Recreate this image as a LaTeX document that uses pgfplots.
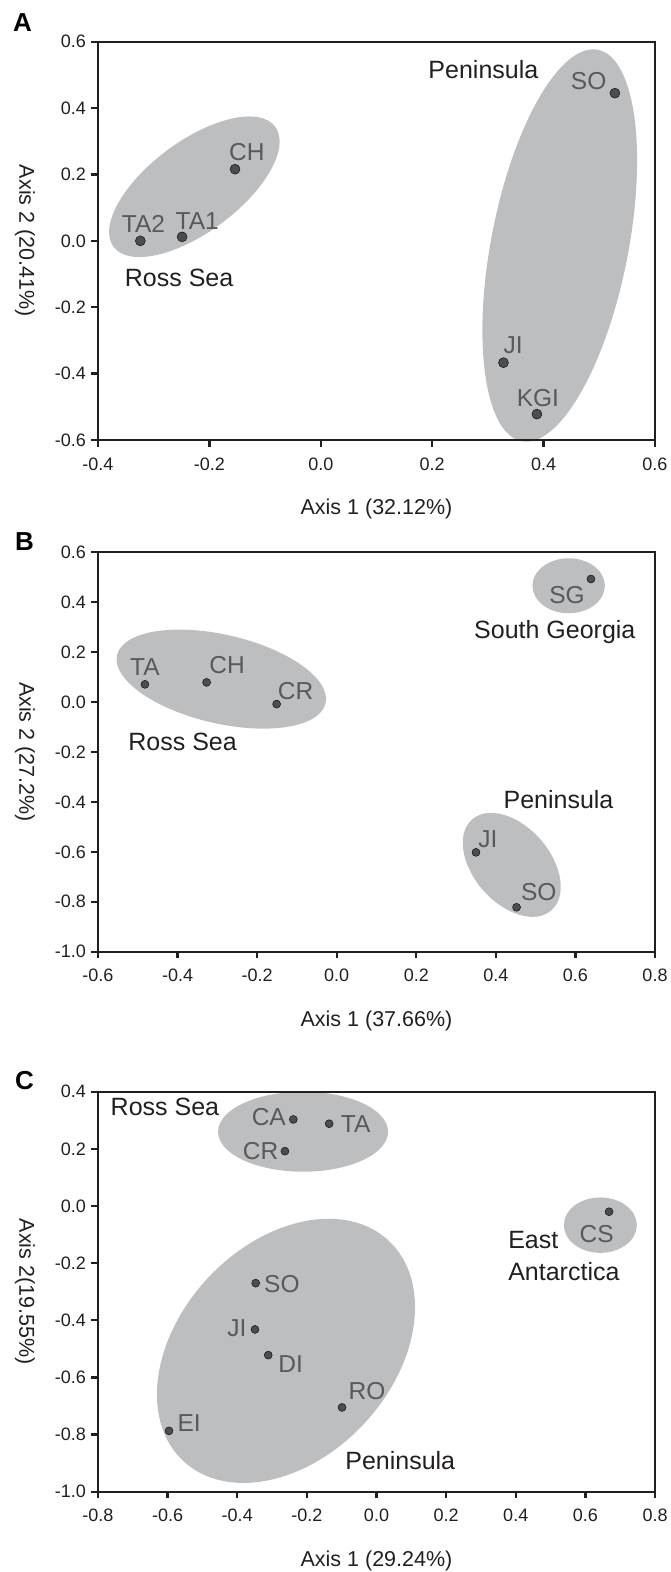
\documentclass[border=0pt]{standalone}
\usepackage{fontspec}
\setmainfont{Liberation Sans}
\usepackage{pgfplots}
\pgfplotsset{compat=1.18}

\definecolor{ellfill}{RGB}{188,190,192}
\definecolor{dotc}{RGB}{77,77,79}
\definecolor{labc}{RGB}{88,89,91}
\definecolor{ink}{RGB}{35,31,32}

\pgfplotsset{
  pcoa/.style={
    scale only axis, anchor=south west, clip=false, axis on top,
    width=557pt,
    axis line style={ink, line width=2.3pt},
    major tick style={ink, line width=2.3pt},
    major tick length=6.5pt,
    tick align=outside,
    xtick pos=left, ytick pos=left,
    tick label style={font=\fontsize{18}{18}\selectfont, text=ink},
    xticklabel style={yshift=-7.5pt},
    yticklabel style={xshift=-2pt},
    /pgf/number format/fixed,
    /pgf/number format/fixed zerofill,
    /pgf/number format/precision=1,
    /pgf/number format/assume math mode=true,
    label style={font=\fontsize{21.5}{21.5}\selectfont, text=ink},
    x label style={at={(axis description cs:0.5,-0.1725)}, anchor=center},
    y label style={at={(axis description cs:-0.131,0.5)}, anchor=center, rotate=180},
  },
}
\tikzset{
  ptlab/.style={inner sep=0pt, text=labc, font=\fontsize{24.5}{24.5}\selectfont},
  grp/.style={inner sep=0pt, anchor=base west, text=ink, font=\fontsize{25}{25}\selectfont},
}

\begin{document}
\begin{tikzpicture}
\path[use as bounding box] (0,0) rectangle (671pt,-1572pt);

% ---------- A ----------
\begin{axis}[pcoa, at={(98pt,-440pt)}, height=398.3pt,
  xmin=-0.4, xmax=0.6, ymin=-0.6, ymax=0.6,
  xtick={-0.4,-0.2,0,0.2,0.4,0.6},
  ytick={-0.6,-0.4,-0.2,0,0.2,0.4,0.6},
  xlabel={Axis 1 (32.12\%)}, ylabel={Axis 2 (20.41\%)}]
\fill[ellfill] (axis cs:-0.227,0.163) circle[x radius=100.7pt, y radius=45.5pt, rotate=36.6];
\fill[ellfill] (axis cs:0.429,-0.014) circle[x radius=199.4pt, y radius=68.6pt, rotate=79];
\addplot[only marks, mark=*, mark size=5pt, mark options={fill=dotc, draw=none}]
  table {
x y
-0.324 0.000
-0.249 0.012
-0.154 0.216
0.528 0.445
0.328 -0.367
0.388 -0.522
};
\node[ptlab, anchor=base west, xshift=-18.6pt, yshift=8.3pt] at (axis cs:-0.324,0.000) {TA2};
\node[ptlab, anchor=base west, xshift=-6.7pt, yshift=7pt] at (axis cs:-0.249,0.012) {TA1};
\node[ptlab, anchor=base west, xshift=-6pt, yshift=9pt] at (axis cs:-0.154,0.216) {CH};
\node[ptlab, anchor=base east, xshift=-8.3pt, yshift=4pt] at (axis cs:0.528,0.445) {SO};
\node[ptlab, anchor=base west, xshift=0pt, yshift=8.7pt] at (axis cs:0.328,-0.367) {JI};
\node[ptlab, anchor=base, xshift=1pt, yshift=7.3pt] at (axis cs:0.388,-0.522) {KGI};
\node[grp] at (axis cs:0.193,0.488) {Peninsula};
\node[grp] at (axis cs:-0.352,-0.138) {Ross Sea};
\end{axis}

% ---------- B ----------
\begin{axis}[pcoa, at={(98pt,-951.7pt)}, height=399.4pt,
  xmin=-0.6, xmax=0.8, ymin=-1.0, ymax=0.6,
  xtick={-0.6,-0.4,-0.2,0,0.2,0.4,0.6,0.8},
  ytick={-1,-0.8,-0.6,-0.4,-0.2,0,0.2,0.4,0.6},
  xlabel={Axis 1 (37.66\%)}, ylabel={Axis 2 (27.2\%)}]
\fill[ellfill] (axis cs:-0.290,0.092) circle[x radius=107pt, y radius=44.4pt, rotate=-13];
\fill[ellfill] (axis cs:0.583,0.466) circle[x radius=36.2pt, y radius=27.5pt];
\fill[ellfill] (axis cs:0.440,-0.652) circle[x radius=60.3pt, y radius=38.3pt, rotate=-49];
\addplot[only marks, mark=*, mark size=4pt, mark options={fill=dotc, draw=none}]
  table {
x y
-0.482 0.071
-0.327 0.079
-0.151 -0.008
0.639 0.493
0.350 -0.602
0.452 -0.822
};
\node[ptlab, anchor=base, yshift=8.6pt] at (axis cs:-0.482,0.071) {TA};
\node[ptlab, anchor=base west, xshift=2.6pt, yshift=9pt] at (axis cs:-0.327,0.079) {CH};
\node[ptlab, anchor=base west, xshift=1pt, yshift=5pt] at (axis cs:-0.151,-0.008) {CR};
\node[ptlab, anchor=base east, xshift=-6pt, yshift=-24.3pt] at (axis cs:0.639,0.493) {SG};
\node[ptlab, anchor=base west, xshift=2.3pt, yshift=5pt] at (axis cs:0.350,-0.602) {JI};
\node[ptlab, anchor=base west, xshift=4.3pt, yshift=6.3pt] at (axis cs:0.452,-0.822) {SO};
\node[grp] at (axis cs:-0.524,-0.192) {Ross Sea};
\node[grp] at (axis cs:0.345,0.253) {South Georgia};
\node[grp] at (axis cs:0.419,-0.426) {Peninsula};
\end{axis}

% ---------- C ----------
\begin{axis}[pcoa, at={(98pt,-1491.7pt)}, height=400pt,
  xmin=-0.8, xmax=0.8, ymin=-1.0, ymax=0.4,
  xtick={-0.8,-0.6,-0.4,-0.2,0,0.2,0.4,0.6,0.8},
  ytick={-1,-0.8,-0.6,-0.4,-0.2,0,0.2,0.4},
  xlabel={Axis 1 (29.24\%)}, ylabel={Axis 2(19.55\%)}]
\fill[ellfill] (axis cs:-0.211,0.260) circle[x radius=85pt, y radius=40pt];
\fill[ellfill] (axis cs:0.643,-0.067) circle[x radius=36.5pt, y radius=27.7pt];
\fill[ellfill] (axis cs:-0.260,-0.507) circle[x radius=150.6pt, y radius=106.8pt, rotate=47];
\addplot[only marks, mark=*, mark size=4pt, mark options={fill=dotc, draw=none}]
  table {
x y
-0.239 0.303
-0.136 0.288
-0.263 0.192
0.668 -0.020
-0.347 -0.270
-0.349 -0.432
-0.311 -0.522
-0.099 -0.705
-0.596 -0.787
};
\node[ptlab, anchor=base east, xshift=-7.3pt, yshift=-6pt] at (axis cs:-0.239,0.303) {CA};
\node[ptlab, anchor=base west, xshift=11.6pt, yshift=-8.7pt] at (axis cs:-0.136,0.288) {TA};
\node[ptlab, anchor=base east, xshift=-6.5pt, yshift=-8.3pt] at (axis cs:-0.263,0.192) {CR};
\node[ptlab, anchor=base, xshift=-12.4pt, yshift=-31pt] at (axis cs:0.668,-0.020) {CS};
\node[ptlab, anchor=base west, xshift=8.3pt, yshift=-9pt] at (axis cs:-0.347,-0.270) {SO};
\node[ptlab, anchor=base east, xshift=-8.3pt, yshift=-6.7pt] at (axis cs:-0.349,-0.432) {JI};
\node[ptlab, anchor=base west, xshift=10pt, yshift=-17.7pt] at (axis cs:-0.311,-0.522) {DI};
\node[ptlab, anchor=base west, xshift=6.5pt, yshift=7.7pt] at (axis cs:-0.099,-0.705) {RO};
\node[ptlab, anchor=base west, xshift=8.3pt, yshift=-0.7pt] at (axis cs:-0.596,-0.787) {EI};
\node[grp] at (axis cs:-0.764,0.318) {Ross Sea};
\node[grp] at (axis cs:0.378,-0.148) {East};
\node[grp] at (axis cs:0.378,-0.259) {Antarctica};
\node[grp] at (axis cs:-0.090,-0.922) {Peninsula};
\end{axis}

\node[anchor=base west, inner sep=0pt, text=black, font=\bfseries\fontsize{26}{26}\selectfont] at (13pt,-31.7pt) {A};
\node[anchor=base west, inner sep=0pt, text=black, font=\bfseries\fontsize{26}{26}\selectfont] at (15pt,-550.7pt) {B};
\node[anchor=base west, inner sep=0pt, text=black, font=\bfseries\fontsize{26}{26}\selectfont] at (15pt,-1089.3pt) {C};
\end{tikzpicture}
\end{document}
